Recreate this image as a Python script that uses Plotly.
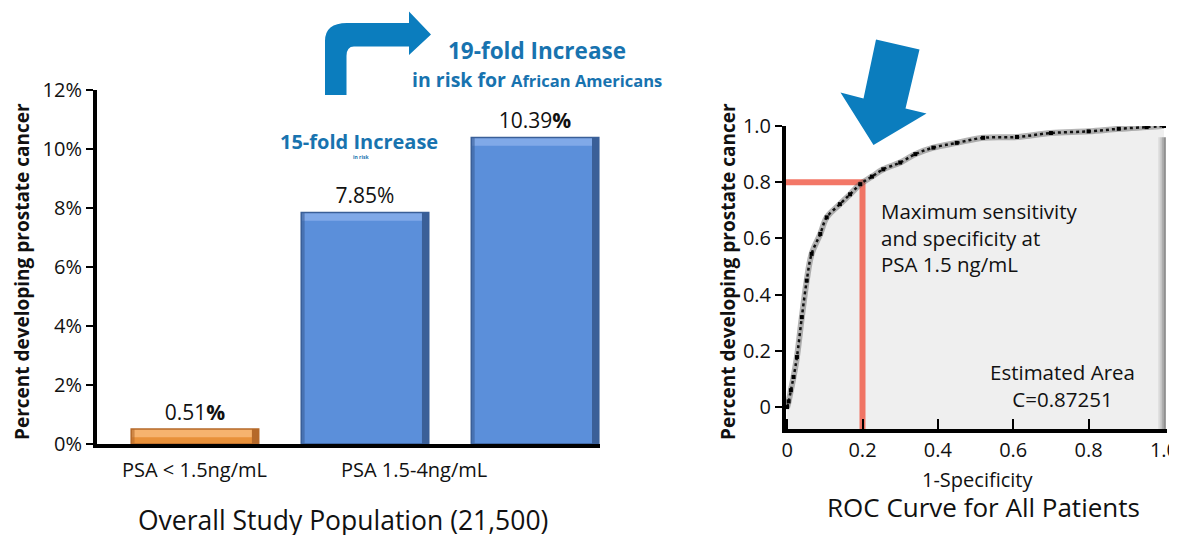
import plotly.graph_objects as go

# ---------------- data ----------------
bar_positions = [0, 1, 2]
bar_values = [0.51, 7.85, 10.39]
bar_labels = ["0.51<b>%</b>", "7.85%", "10.39<b>%</b>"]
bar_colors = ["#E8913A", "#5B8FDA", "#5B8FDA"]
bar_light = ["#F6B36E", "#80A9E8", "#80A9E8"]
bar_dark = ["#B5692A", "#3A5F98", "#3A5F98"]
category_labels = ["PSA < 1.5ng/mL", "PSA 1.5-4ng/mL"]
category_pos = [0, 1.29]
left_ytick_vals = [0, 2, 4, 6, 8, 10, 12]
left_ytick_text = ["0%", "2%", "4%", "6%", "8%", "10%", "12%"]

roc_fpr = [0.0, 0.004, 0.010, 0.017, 0.026, 0.039, 0.052, 0.065, 0.088, 0.105, 0.140,
           0.167, 0.194, 0.225, 0.255, 0.300, 0.340, 0.388, 0.450, 0.520, 0.610,
           0.700, 0.800, 0.880, 0.954, 1.000]
roc_tpr = [0.0, 0.02, 0.06, 0.107, 0.178, 0.320, 0.450, 0.545, 0.616, 0.675, 0.722,
           0.757, 0.793, 0.820, 0.846, 0.870, 0.900, 0.923, 0.940, 0.958, 0.961,
           0.975, 0.981, 0.990, 0.996, 1.000]
cutoff_fpr = 0.2
cutoff_tpr = 0.8
roc_tick_vals = [0, 0.2, 0.4, 0.6, 0.8, 1.0]
roc_tick_text = ["0", "0.2", "0.4", "0.6", "0.8", "1.0"]

# the page body has an 8px margin, so the figure starts at (8, 8) of the window
OFF = 8
W, H = 1177 - OFF, 535 - OFF
FONT = "Open Sans"
BLUE = "#0B7DBE"
TXTBLUE = "#1873AF"
BAR_W = 0.75


def px(x):
    return (x - OFF) / W


def py(y):
    return 1 - (y - OFF) / H


fig = go.Figure()

# ---------------- left bar chart ----------------
fig.add_trace(go.Bar(
    x=bar_positions, y=bar_values, width=BAR_W,
    marker=dict(color=bar_colors, line=dict(width=0)),
    text=bar_labels, textposition="outside", cliponaxis=False,
    textfont=dict(family=FONT, size=21, color="#111"),
    xaxis="x", yaxis="y", showlegend=False, hoverinfo="skip"))

# ---------------- right ROC chart ----------------
ybot = -0.078
fig.add_trace(go.Scatter(
    x=roc_fpr + [1.0, 0.0], y=roc_tpr[:-1] + [0.985, ybot, ybot], fill="toself",
    fillcolor="#EFEFEF", line=dict(width=0), mode="lines",
    xaxis="x2", yaxis="y2", showlegend=False, hoverinfo="skip"))
fig.add_trace(go.Scatter(
    x=[-0.003, cutoff_fpr, cutoff_fpr], y=[cutoff_tpr, cutoff_tpr, ybot],
    mode="lines", line=dict(color="rgba(240,85,65,0.8)", width=6),
    xaxis="x2", yaxis="y2", showlegend=False, hoverinfo="skip"))
fig.add_trace(go.Scatter(
    x=roc_fpr, y=roc_tpr, mode="lines",
    line=dict(color="rgba(90,90,90,0.45)", width=6, shape="spline"),
    xaxis="x2", yaxis="y2", showlegend=False, hoverinfo="skip"))
fig.add_trace(go.Scatter(
    x=roc_fpr, y=roc_tpr, mode="lines+markers",
    line=dict(color="#111", width=2.5, dash="dot", shape="spline"),
    marker=dict(symbol="square", size=4, color="#000"),
    xaxis="x2", yaxis="y2", showlegend=False, hoverinfo="skip"))

shapes = []
# bevel effect on the bars
for xc, v, lt, dk in zip(bar_positions, bar_values, bar_light, bar_dark):
    x0, x1 = xc - BAR_W / 2, xc + BAR_W / 2
    bev = 0.28
    shapes.append(dict(type="rect", xref="x", yref="y", x0=x0, x1=x1, y0=v - bev, y1=v,
                       fillcolor=lt, line=dict(width=0), layer="above"))
    shapes.append(dict(type="rect", xref="x", yref="y", x0=x1 - 0.04, x1=x1, y0=0, y1=v,
                       fillcolor=dk, line=dict(width=0), layer="above"))
    shapes.append(dict(type="rect", xref="x", yref="y", x0=x0, x1=x0 + 0.02, y0=0, y1=v,
                       fillcolor=dk, opacity=0.6, line=dict(width=0), layer="above"))
    shapes.append(dict(type="rect", xref="x", yref="y", x0=x0, x1=x1, y0=0, y1=v,
                       fillcolor="rgba(0,0,0,0)", line=dict(color=dk, width=1.5),
                       layer="above"))

# darker bevel edge of the ROC panel
for i, c in enumerate(["#DADADA", "#C4C4C4", "#A8A8A8", "#909090"]):
    shapes.append(dict(type="rect", xref="x2", yref="y2",
                       x0=0.985 + i * 0.005, x1=0.99 + i * 0.005, y0=ybot, y1=0.96,
                       fillcolor=c, line=dict(width=0), layer="above"))

# bent arrow (top of left chart)
bent = ("M {a},{b} L {a},{c} Q {a},{d} {e},{d} L {f},{d} L {f},{g} L {h},{i} "
        "L {f},{j} L {f},{k} L {l},{k} Q {m},{k} {m},{n} L {m},{b} Z").format(
    a=px(325), b=py(95), c=py(41), d=py(23), e=px(347), f=px(409), g=py(11.5),
    h=px(431), i=py(34.5), j=py(55), k=py(46.5), l=px(354), m=px(346.5), n=py(56))
shapes.append(dict(type="path", xref="paper", yref="paper", path=bent,
                   fillcolor=BLUE, line=dict(width=0), layer="above"))

# down arrow (ROC chart)
pts = [(876, 39.5), (919.5, 49.5), (905.5, 108.5), (926.5, 113.5), (873.5, 145),
       (840.5, 92.5), (863.5, 98.5)]
down = "M " + " L ".join(f"{px(x)},{py(y)}" for x, y in pts) + " Z"
shapes.append(dict(type="path", xref="paper", yref="paper", path=down,
                   fillcolor=BLUE, line=dict(width=0), layer="above"))

annotations = []


def ann(x, y, text, size, color="#111", bold=False, angle=0, align="center", xanchor="center"):
    if bold:
        text = f"<b>{text}</b>"
    annotations.append(dict(x=px(x), y=py(y), xref="paper", yref="paper", text=text,
                            showarrow=False, textangle=angle, align=align,
                            xanchor=xanchor, yanchor="middle",
                            font=dict(family=FONT, size=size, color=color)))


# left chart texts
for lab, pos in zip(category_labels, category_pos):
    annotations.append(dict(x=pos, y=0, xref="x", yref="y", text=lab, showarrow=False,
                            yanchor="top", yshift=-10,
                            font=dict(family=FONT, size=20, color="#111")))
ann(343, 520, "Overall Study Population (21,500)", 26.5)
ann(22, 272, "Percent developing prostate cancer", 19, bold=True, angle=-90)
ann(359, 141, "15-fold Increase", 20, color=TXTBLUE, bold=True)
ann(361, 157, "in risk", 5, color=TXTBLUE, bold=True)
ann(537, 50, "19-fold Increase", 22.5, color=TXTBLUE, bold=True)
ann(537, 79, "<b><span style='font-size:19.5px'>in risk for </span>African Americans</b>", 16.5,
    color=TXTBLUE)

# right chart texts
ann(728, 272, "Percent developing prostate cancer", 19, bold=True, angle=-90)
ann(879, 237, "Maximum sensitivity<br>and specificity at<br>PSA 1.5 ng/mL", 20.5,
    align="left", xanchor="left")
ann(1062, 385, "Estimated Area<br>C=0.87251", 20.5)
ann(977, 479, "1-Specificity", 20)
ann(983, 507, "ROC Curve for All Patients", 26)

axis_font = dict(family=FONT, size=20, color="#111")

fig.update_layout(
    width=W, height=H, margin=dict(l=0, r=0, t=0, b=0, pad=0, autoexpand=False),
    paper_bgcolor="white", plot_bgcolor="rgba(0,0,0,0)",
    shapes=shapes, annotations=annotations, bargap=0,
    xaxis=dict(domain=[px(97), px(600)], range=[-0.576, 2.382], showticklabels=False,
               showgrid=False, zeroline=False, showline=True, linecolor="black",
               linewidth=4, ticks="", fixedrange=True, automargin=False),
    yaxis=dict(domain=[py(444), py(90)], range=[0, 12], tickvals=left_ytick_vals,
               ticktext=left_ytick_text, ticks="outside", ticklen=7, tickwidth=2,
               tickcolor="black", showgrid=False, zeroline=False, showline=True,
               linecolor="black", linewidth=4, tickfont=axis_font, fixedrange=True,
               automargin=False),
    xaxis2=dict(domain=[px(786), px(1167)], range=[-0.003, 1.008], anchor="y2",
                tickvals=roc_tick_vals, ticktext=roc_tick_text, ticks="inside",
                ticklen=10, tickwidth=1.5, tickcolor="black", showgrid=False,
                zeroline=False, showline=True, linecolor="black", linewidth=4,
                tickfont=axis_font, fixedrange=True, automargin=False,
                ticklabeloverflow="allow"),
    yaxis2=dict(domain=[py(429), py(126)], range=[ybot, 1.0], anchor="x2",
                tickvals=roc_tick_vals, ticktext=roc_tick_text, ticks="outside",
                ticklen=7, tickwidth=2, tickcolor="black", showgrid=False,
                zeroline=False, showline=True, linecolor="black", linewidth=4,
                tickfont=axis_font, fixedrange=True, automargin=False),
)

fig.write_html("out.html")
